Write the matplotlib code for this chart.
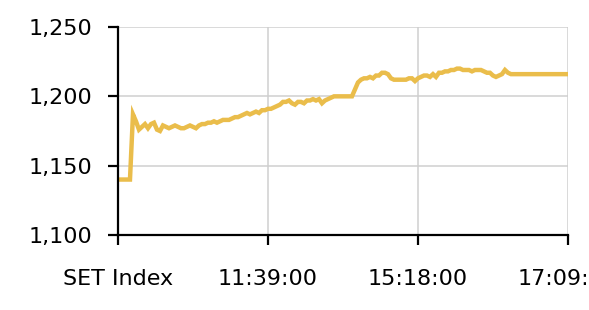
import matplotlib
matplotlib.use("Agg")
import matplotlib.pyplot as plt
import numpy as np

# SET index intraday, one value per sample (first sample is the "SET Index" category)
set_values = [
    1140, 1140, 1140, 1140, 1187, 1182, 1176, 1178, 1180, 1177,
    1180, 1181, 1176, 1175, 1179, 1178, 1177, 1178, 1179, 1178,
    1177, 1177, 1178, 1179, 1178, 1177, 1179, 1180, 1180, 1181,
    1181, 1182, 1181, 1182, 1183, 1183, 1183, 1184, 1185, 1185,
    1186, 1187, 1188, 1187, 1188, 1189, 1188, 1190, 1190, 1191,
    1191, 1192, 1193, 1194, 1196, 1196, 1197, 1195, 1194, 1196,
    1196, 1195, 1197, 1197, 1198, 1197, 1198, 1195, 1197, 1198,
    1199, 1200, 1200, 1200, 1200, 1200, 1200, 1200, 1205, 1210,
    1212, 1213, 1213, 1214, 1213, 1215, 1215, 1217, 1217, 1216,
    1213, 1212, 1212, 1212, 1212, 1212, 1213, 1213, 1211, 1213,
    1214, 1215, 1215, 1214, 1216, 1214, 1217, 1217, 1218, 1218,
    1219, 1219, 1220, 1220, 1219, 1219, 1219, 1218, 1219, 1219,
    1219, 1218, 1217, 1217, 1215, 1214, 1215, 1216, 1219, 1217,
    1216, 1216, 1216, 1216, 1216, 1216, 1216, 1216, 1216, 1216,
    1216, 1216, 1216, 1216, 1216, 1216, 1216, 1216, 1216, 1216,
]
sample_idx = np.arange(1, len(set_values) + 1)

tick_idx = [0, 50, 100, 150]
tick_labels = ["SET Index", "11:39:00", "15:18:00", "17:09:00"]
y_ticks = [1100, 1150, 1200, 1250]

plt.rcParams["font.family"] = ["DejaVu Sans"]

fig = plt.figure(figsize=(5.89, 3.10), dpi=100)
ax = fig.add_axes([0.2003, 0.2419, 0.7640, 0.6710])

ax.plot(sample_idx, set_values, color="#EABD4B", lw=3.2, solid_joinstyle="miter")

ax.set_xlim(0, 150)
ax.set_ylim(1100, 1250)
ax.set_xticks(tick_idx)
ax.set_xticklabels(tick_labels)
ax.set_yticks(y_ticks)
ax.set_yticklabels([f"{v:,}" for v in y_ticks])

ax.tick_params(axis="both", labelsize=16, width=1.6, length=7.5, color="black")
ax.tick_params(axis="x", pad=17)
ax.tick_params(axis="y", pad=11)

ax.grid(True, color="#cfcfcf", lw=1.1)
ax.set_axisbelow(True)
for side in ["top", "right"]:
    ax.spines[side].set_visible(False)
for side in ["left", "bottom"]:
    ax.spines[side].set_linewidth(1.6)

fig.savefig("out.png", dpi=100)
